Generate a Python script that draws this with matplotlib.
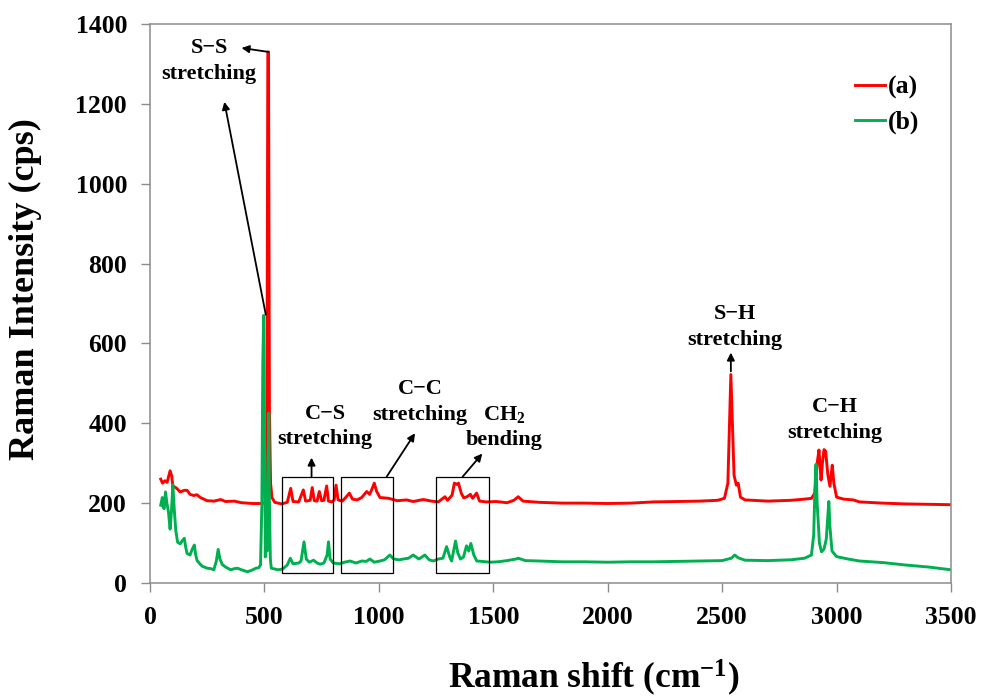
"""Raman spectra of samples (a) and (b) with the main band assignments marked."""

import matplotlib

matplotlib.use("Agg")
import matplotlib.pyplot as plt
from matplotlib.patches import Rectangle

# Spectrum (a): Raman shift (cm-1) and intensity (cps)
SHIFT_A = [
    47, 55, 65, 75, 88, 95, 100, 115, 132, 150, 162, 175, 191, 205, 220, 250,
    280, 309, 330, 368, 400, 426, 450, 478, 500, 506, 511, 515, 518, 522, 527,
    533, 545, 575, 600, 615, 625, 650, 670, 680, 700, 709, 718, 730, 740, 750,
    760, 772, 780, 795, 805, 813, 822, 840, 855, 871, 885, 905, 925, 947, 960,
    972, 980, 990, 1005, 1043, 1080, 1121, 1150, 1194, 1230, 1260, 1289, 1300,
    1320, 1330, 1340, 1348, 1360, 1371, 1385, 1400, 1410, 1427, 1440, 1470,
    1513, 1560, 1590, 1609, 1630, 1700, 1800, 1900, 2000, 2100, 2200, 2300,
    2400, 2480, 2510, 2525, 2533, 2538, 2543, 2552, 2562, 2570, 2580, 2600,
    2700, 2800, 2860, 2890, 2905, 2915, 2923, 2928, 2932, 2938, 2945, 2952,
    2962, 2971, 2976, 2981, 2988, 3000, 3030, 3073, 3100, 3200, 3300, 3400,
    3500,
]
INTENSITY_A = [
    260, 250, 256, 252, 281, 268, 243, 238, 228, 232, 232, 222, 219, 221, 214,
    206, 205, 209, 204, 205, 201, 200, 199, 199, 200, 205, 420, 1330, 1330, 430,
    250, 214, 202, 198, 202, 237, 204, 203, 233, 205, 207, 239, 206, 205, 229,
    206, 207, 243, 205, 203, 208, 245, 208, 205, 214, 225, 210, 208, 214, 229,
    222, 238, 250, 230, 214, 212, 206, 208, 204, 209, 205, 203, 216, 207, 220,
    250, 247, 250, 225, 213, 216, 222, 212, 225, 205, 203, 204, 201, 207, 216,
    205, 202, 200, 200, 199, 200, 203, 204, 205, 207, 212, 250, 420, 522, 430,
    270, 245, 250, 215, 208, 205, 207, 210, 212, 225, 300, 333, 290, 258, 300,
    334, 330, 270, 242, 270, 295, 250, 215, 210, 208, 203, 200, 198, 197, 196,
]

# Spectrum (b)
SHIFT_B = [
    47, 54, 58, 62, 68, 74, 81, 88, 94, 100, 106, 113, 121, 132, 140, 150, 156,
    162, 175, 185, 194, 200, 206, 218, 228, 250, 265, 279, 290, 298, 306, 316,
    330, 353, 370, 382, 400, 426, 445, 463, 475, 483, 489, 493, 497, 501, 504,
    508, 512, 516, 519, 522, 526, 530, 545, 560, 580, 600, 613, 625, 650, 660,
    673, 683, 696, 715, 730, 744, 760, 774, 780, 787, 801, 830, 850, 874, 900,
    925, 945, 961, 980, 1005, 1025, 1048, 1065, 1090, 1107, 1130, 1150, 1175,
    1201, 1220, 1238, 1260, 1280, 1296, 1310, 1318, 1335, 1345, 1357, 1370,
    1383, 1393, 1402, 1415, 1428, 1450, 1486, 1520, 1560, 1600, 1609, 1640,
    1700, 1800, 1900, 2000, 2100, 2200, 2300, 2400, 2500, 2540, 2555, 2570,
    2600, 2700, 2800, 2860, 2890, 2900, 2905, 2910, 2915, 2925, 2934, 2945,
    2955, 2962, 2966, 2971, 2980, 3000, 3050, 3100, 3204, 3300, 3400, 3500,
]
INTENSITY_B = [
    195, 214, 190, 186, 228, 200, 177, 135, 180, 246, 186, 130, 102, 98, 105,
    112, 90, 74, 70, 85, 95, 70, 56, 48, 42, 37, 36, 33, 55, 84, 60, 46, 40, 33,
    36, 37, 33, 28, 32, 37, 38, 45, 200, 550, 670, 300, 65, 230, 80, 300, 425,
    200, 60, 37, 35, 33, 35, 45, 62, 48, 50, 55, 103, 60, 52, 57, 50, 47, 50,
    70, 103, 60, 50, 48, 52, 55, 50, 55, 54, 60, 52, 55, 58, 70, 60, 58, 60, 62,
    70, 60, 70, 58, 55, 60, 62, 91, 65, 55, 105, 75, 60, 65, 93, 80, 99, 70, 55,
    54, 52, 53, 56, 60, 62, 56, 55, 53, 53, 52, 53, 53, 54, 55, 56, 62, 70, 63,
    57, 56, 58, 62, 70, 120, 230, 297, 200, 100, 78, 85, 110, 170, 204, 140, 80,
    66, 60, 55, 51, 45, 40, 33,
]

# Boxed band regions (cm-1)
BAND_BOXES = [(575, 798), (833, 1063), (1249, 1482)]

SERIES_LABELS = ["(a)", "(b)"]
X_TICKS = [0, 500, 1000, 1500, 2000, 2500, 3000, 3500]
Y_TICKS = [0, 200, 400, 600, 800, 1000, 1200, 1400]


def plot(out_path):
    plt.rcParams["font.family"] = ["Liberation Serif", "DejaVu Serif"]
    plt.rcParams["font.weight"] = "bold"
    plt.rcParams["mathtext.fontset"] = "custom"
    plt.rcParams["mathtext.rm"] = "Liberation Serif:bold"
    plt.rcParams["mathtext.bf"] = "Liberation Serif:bold"
    plt.rcParams["mathtext.it"] = "Liberation Serif:bold:italic"

    fig = plt.figure(figsize=(9.84, 6.97), dpi=100)
    ax = fig.add_axes([0.1524, 0.1636, 0.8141, 0.802])

    red, green = "#ff0000", "#00b050"
    ax.plot(SHIFT_A, INTENSITY_A, color=red, lw=2.1, label=SERIES_LABELS[0])
    ax.plot(SHIFT_B, INTENSITY_B, color=green, lw=2.1, label=SERIES_LABELS[1])

    ax.set_xlim(0, 3500)
    ax.set_ylim(0, 1400)
    ax.set_xticks(X_TICKS)
    ax.set_yticks(Y_TICKS)
    for s in ax.spines.values():
        s.set_color("#8c8c8c")
        s.set_linewidth(1.1)
    ax.tick_params(axis="both", direction="out", length=6.5, width=1,
                   color="#8c8c8c", labelsize=18.5, pad=10)

    fig.text(0.026, 0.585, "Raman Intensity (cps)", fontsize=26,
             fontweight="bold", rotation=90, ha="center", va="center")
    fig.text(0.603, 0.0129, r"Raman shift (cm$^{\mathrm{-1}}$)",
             fontsize=25.5, fontweight="bold", ha="center", va="baseline")

    # band boxes
    for x0, x1 in BAND_BOXES:
        ax.add_patch(Rectangle((x0, 26), x1 - x0, 240, fill=False,
                               edgecolor="black", lw=0.9, zorder=4))

    arrow = dict(arrowstyle="-|>", color="black", lw=1.3, mutation_scale=11,
                 shrinkA=0, shrinkB=0)
    tkw = dict(fontsize=16, fontweight="bold", ha="center", va="center",
               linespacing=1.35)

    ax.text(258, 1307, "S\u2212S\nstretching", **tkw)
    ax.annotate("", xy=(400, 1340), xytext=(518, 1330), arrowprops=arrow)
    ax.annotate("", xy=(325, 1205), xytext=(506, 672), arrowprops=arrow)

    ax.text(765, 391, "C\u2212S\nstretching", **tkw)
    ax.annotate("", xy=(706, 314), xytext=(706, 266), arrowprops=arrow)

    ax.text(1180, 453, "C\u2212C\nstretching", **tkw)
    ax.annotate("", xy=(1158, 375), xytext=(1034, 266), arrowprops=arrow)

    ax.text(1548, 391, "CH$_{\\mathrm{2}}$\nbending", **tkw)
    ax.annotate("", xy=(1452, 324), xytext=(1366, 266), arrowprops=arrow)

    ax.text(2556, 641, "S\u2212H\nstretching", **tkw)
    ax.annotate("", xy=(2538, 577), xytext=(2538, 530), arrowprops=arrow)

    ax.text(2993, 408, "C\u2212H\nstretching", **tkw)

    ax.legend(loc="upper left", bbox_to_anchor=(0.869, 0.891),
              bbox_transform=fig.transFigure, frameon=False, fontsize=18.5,
              handlelength=1.17, handletextpad=0.1, labelspacing=0.44,
              borderpad=0, borderaxespad=0)

    fig.savefig(out_path, dpi=100)


def main():
    plot("out.png")


if __name__ == "__main__":
    main()
